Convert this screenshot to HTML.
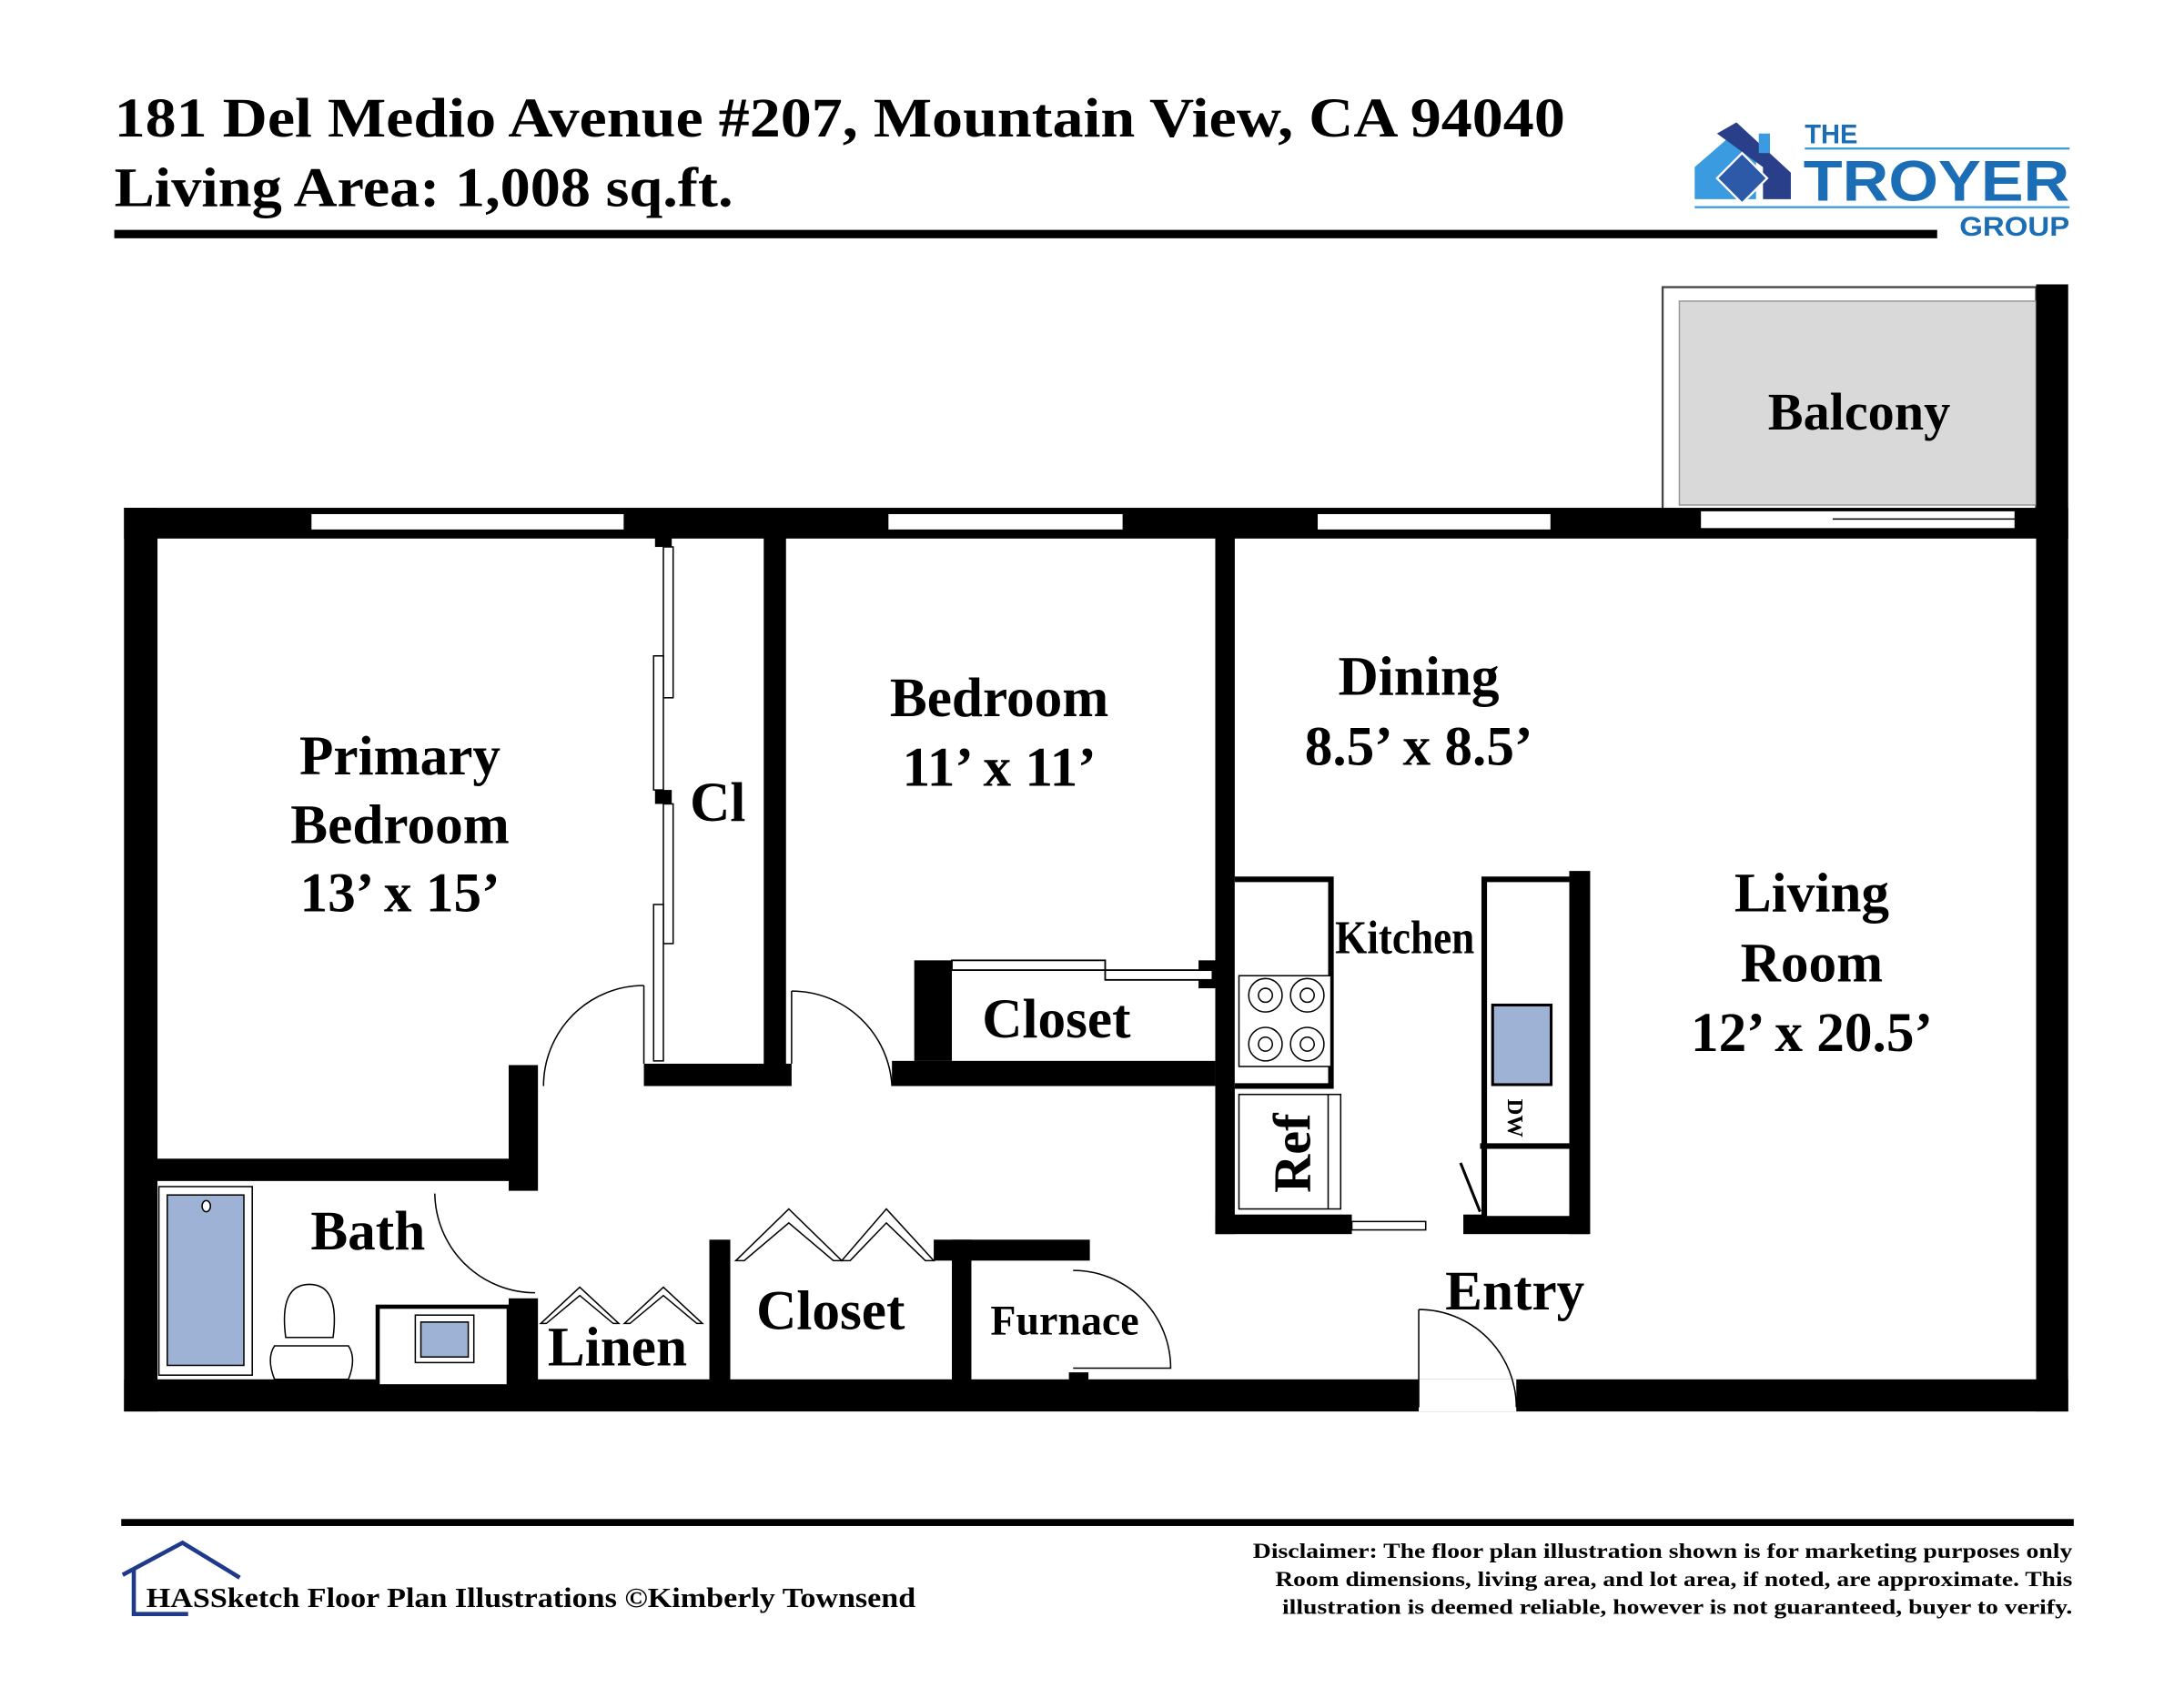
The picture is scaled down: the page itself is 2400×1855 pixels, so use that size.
<!DOCTYPE html>
<html><head><meta charset="utf-8"><style>
html,body{margin:0;padding:0;background:#fff;}
svg{display:block;}
text{font-family:"Liberation Serif",serif;font-weight:bold;fill:#000;}
</style></head><body>
<svg width="2400" height="1855" viewBox="0 2.4 1567.1 1208.6" preserveAspectRatio="none" xmlns="http://www.w3.org/2000/svg">
<rect x="0" y="0" width="1600" height="1220" fill="#fff"/>
<!-- Header -->
<text x="82" y="100" font-size="40" textLength="1041" lengthAdjust="spacingAndGlyphs">181 Del Medio Avenue #207,  Mountain View, CA 94040</text>
<text x="82" y="150" font-size="40" textLength="444" lengthAdjust="spacingAndGlyphs">Living Area: 1,008 sq.ft.</text>
<rect x="82" y="167" width="1308" height="6" fill="#000"/>
<!-- Logo -->
<g>
<polygon points="1216,122 1245,97 1260,110 1260,145 1216,145" fill="#3a9be0"/>
<polygon points="1232,98 1246,90 1285,126 1285,145 1265,145 1265,122" fill="#2a3f8a"/>
<rect x="1262" y="98" width="8" height="14" fill="#3a9be0"/>
<polygon points="1250,112 1268,130 1250,148 1232,130" fill="#2d5aa8" stroke="#fff" stroke-width="1.5"/>
<text x="1295" y="105" font-size="19" style="fill:#1b6db5;font-family:'Liberation Sans',sans-serif">THE</text>
<rect x="1295" y="108" width="190" height="1.5" fill="#3a9be0"/>
<text x="1294" y="146" font-size="41" textLength="191" lengthAdjust="spacingAndGlyphs" style="fill:#1b6db5;font-family:'Liberation Sans',sans-serif">TROYER</text>
<rect x="1216" y="150" width="269" height="1.5" fill="#3a9be0"/>
<text x="1406" y="171" font-size="19" textLength="79" lengthAdjust="spacingAndGlyphs" style="fill:#1b6db5;font-family:'Liberation Sans',sans-serif">GROUP</text>
</g>

<!-- Balcony -->
<rect x="1193" y="208" width="268" height="170" fill="#fff" stroke="#444" stroke-width="1.5"/>
<rect x="1205" y="218" width="256" height="146" fill="#d9d9d9" stroke="#999" stroke-width="1"/>
<text x="1334" y="310" font-size="38" text-anchor="middle">Balcony</text>

<!-- Outer walls -->
<rect x="89" y="366" width="1395" height="22" fill="#000"/>
<rect x="89" y="990" width="1395" height="23" fill="#000"/>
<rect x="89" y="366" width="24" height="647" fill="#000"/>
<rect x="1461" y="206" width="23" height="807" fill="#000"/>
<!-- Windows -->
<g fill="#fff" stroke="#000" stroke-width="1">
<rect x="223" y="370" width="225" height="12"/>
<rect x="637" y="370" width="169" height="12"/>
<rect x="945" y="370" width="168" height="12"/>
<rect x="1220" y="368" width="226" height="13"/>
<rect x="1018" y="990" width="70" height="23" stroke="none"/>
</g>
<line x1="1315" y1="374" x2="1446" y2="374" stroke="#000" stroke-width="1"/>

<!-- Interior walls -->
<g fill="#000">
<rect x="548" y="372" width="16" height="408"/>
<rect x="470" y="372" width="12" height="22"/>
<rect x="470" y="568" width="12" height="10"/>
<rect x="462" y="764" width="106" height="16"/>
<rect x="872" y="372" width="14" height="514"/>
<rect x="640" y="762" width="232" height="18"/>
<rect x="656" y="690" width="27" height="72"/>
<rect x="98" y="832" width="282" height="16"/>
<rect x="365" y="765" width="21" height="90"/>
<rect x="365" y="932" width="21" height="68"/>
<rect x="509" y="890" width="15" height="110"/>
<rect x="683" y="890" width="14" height="110"/>
<rect x="670" y="890" width="112" height="15"/>
<rect x="767" y="985" width="14" height="18"/>
<rect x="872" y="872" width="98" height="14"/>
<rect x="1050" y="872" width="90" height="14"/>
<rect x="1126" y="626" width="15" height="260"/>
<rect x="860" y="690" width="14" height="20"/>
</g>
<!-- Cl bifold -->
<g fill="#fff" stroke="#000" stroke-width="1">
<rect x="476" y="394" width="7" height="108"/>
<rect x="469" y="472" width="7" height="96"/>
<rect x="476" y="578" width="7" height="100"/>
<rect x="469" y="650" width="7" height="112"/>
</g>
<!-- bedroom closet sliders -->
<g fill="#fff" stroke="#000" stroke-width="1.2">
<rect x="683" y="690" width="110" height="7"/>
<rect x="793" y="697" width="77" height="7"/>
</g>
<!-- Doors -->
<g fill="none" stroke="#000" stroke-width="1">
<path d="M462,708 A72,72 0 0 0 390,780"/>
<line x1="462" y1="708" x2="462" y2="764"/>
<path d="M568,712 A72,72 0 0 1 640,780"/>
<line x1="568" y1="712" x2="568" y2="764"/>
<path d="M312,857 A72,72 0 0 0 384,928"/>
<path d="M770,912 A70,70 0 0 1 840,982 L770,982"/>
<path d="M1018,940 A70,70 0 0 1 1088,1010"/>
<line x1="1018" y1="940" x2="1018" y2="1010"/>
<line x1="1048" y1="835" x2="1062" y2="870" stroke-width="2"/>
<rect x="970" y="877" width="53" height="6" fill="#fff"/>
</g>
<!-- Bifold doors closets -->
<g fill="#fff" stroke="#000" stroke-width="1">
<path d="M388,950 L416,924 L444,950 L440,950 L416,930 L392,950 Z"/>
<path d="M448,950 L476,924 L504,950 L500,950 L476,930 L452,950 Z"/>
<path d="M528,905 L566,868 L604,905 L598,905 L566,878 L534,905 Z"/>
<path d="M604,905 L636,868 L670,905 L664,905 L636,878 L610,905 Z"/>
</g>
<!-- Kitchen counters -->
<g fill="#fff" stroke="#000">
<path d="M886,632 L955,632 L955,780 L886,780" stroke-width="4"/>
<path d="M1126,632 L1065,632 L1065,875 L1126,875" stroke-width="4"/>
<line x1="1062" y1="823" x2="1126" y2="823" stroke-width="4"/>
<rect x="889" y="701" width="66" height="65" stroke-width="1"/>
<g fill="none" stroke-width="1">
<circle cx="908" cy="715" r="12"/><circle cx="908" cy="715" r="5"/>
<circle cx="938" cy="715" r="12"/><circle cx="938" cy="715" r="5"/>
<circle cx="908" cy="750" r="12"/><circle cx="908" cy="750" r="5"/>
<circle cx="938" cy="750" r="12"/><circle cx="938" cy="750" r="5"/>
</g>
<rect x="889" y="786" width="73" height="82" stroke-width="1"/>
<line x1="953" y1="786" x2="953" y2="868" stroke-width="1"/>
<rect x="1071" y="722" width="42" height="57" fill="#9eb2d6" stroke-width="2"/>
</g>
<!-- Bath fixtures -->
<g stroke="#000" stroke-width="1">
<rect x="114" y="852" width="67" height="135" fill="#fff"/>
<rect x="120" y="858" width="55" height="122" fill="#9eb2d6"/>
<ellipse cx="148" cy="866" rx="3" ry="4" fill="#fff"/>
<path d="M205,960 Q200,922 222,922 Q244,922 239,960 Z" fill="#fff"/>
<path d="M197,966 L250,966 Q256,975 250,990 L197,990 Q191,975 197,966Z" fill="#fff"/>
<rect x="271" y="938" width="94" height="57" fill="#fff" stroke-width="3"/>
<rect x="298" y="944" width="42" height="34" fill="#fff"/>
<rect x="302" y="949" width="34" height="25" fill="#9eb2d6"/>
</g>

<!-- Labels -->
<g font-size="40" text-anchor="middle">
<text x="287" y="557">Primary</text>
<text x="287" y="606">Bedroom</text>
<text x="287" y="655">13’ x 15’</text>
<text x="515" y="590">Cl</text>
<text x="717" y="515">Bedroom</text>
<text x="717" y="565">11’ x 11’</text>
<text x="1018" y="500">Dining</text>
<text x="1018" y="550">8.5’ x 8.5’</text>
<text x="1300" y="655">Living</text>
<text x="1300" y="705">Room</text>
<text x="1300" y="755">12’ x 20.5’</text>
<text x="758" y="745">Closet</text>
<text x="264" y="897">Bath</text>
<text x="443" y="980">Linen</text>
<text x="596" y="954">Closet</text>
<text x="1087" y="940">Entry</text>
<text x="1008" y="685" font-size="34" textLength="100" lengthAdjust="spacingAndGlyphs">Kitchen</text>
<text x="764" y="958" font-size="30">Furnace</text>
<text transform="translate(940,828) rotate(-90)" font-size="38">Ref</text>
<text transform="translate(1082,803) rotate(90)" font-size="16">DW</text>
</g>

<!-- Footer -->
<rect x="87" y="1090" width="1401" height="5" fill="#000"/>
<path d="M88,1130 L131,1107 L172,1132" fill="none" stroke="#1f3a8a" stroke-width="3"/>
<path d="M96,1126 L96,1158 L135,1158" fill="none" stroke="#1f3a8a" stroke-width="3"/>
<text x="105" y="1153" font-size="20" textLength="552" lengthAdjust="spacingAndGlyphs">HASSketch Floor Plan Illustrations ©Kimberly Townsend</text>
<g font-size="15" text-anchor="end">
<text x="1487" y="1118" textLength="588" lengthAdjust="spacingAndGlyphs">Disclaimer: The floor plan illustration shown is for marketing purposes only</text>
<text x="1487" y="1138" textLength="572" lengthAdjust="spacingAndGlyphs">Room dimensions, living area, and lot area, if noted, are approximate. This</text>
<text x="1487" y="1158" textLength="567" lengthAdjust="spacingAndGlyphs">illustration is deemed reliable, however is not guaranteed, buyer to verify.</text>
</g>
</svg>
</body></html>
